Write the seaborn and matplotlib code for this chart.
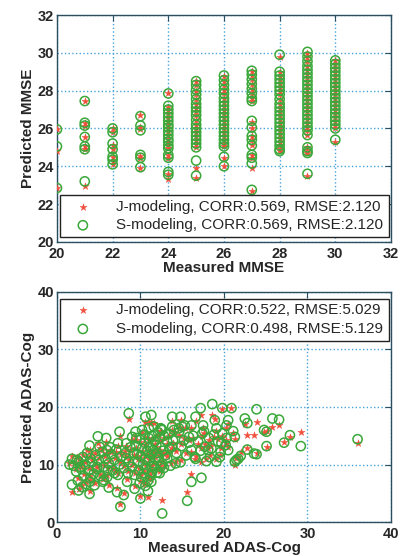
import numpy as np
import pandas as pd
import matplotlib
matplotlib.use('Agg')
import matplotlib.pyplot as plt
import seaborn as sns

# ── MMSE data (one list per measured score) ──────────────────────────────────
mmse_levels = [20, 21, 22, 23, 24, 25, 26, 27, 28, 29, 30]
mmse_pred_s = [
    [25.95, 25.05, 22.85],
    [27.45, 26.3, 26.15, 25.55, 25.05, 24.9, 23.2],
    [26.0, 25.8, 25.2, 24.9, 24.5, 24.35, 24.1],
    [26.65, 26.15, 25.9, 24.6, 24.45, 23.95],
    [27.85, 27.2, 27.0, 26.8, 26.6, 26.4, 26.2, 26.05, 25.85, 25.65, 25.45, 25.3,
     25.1, 24.95, 24.6, 24.45, 23.7, 23.55],
    [28.5, 28.3, 28.05, 27.8, 27.55, 27.3, 27.1, 26.9, 26.7, 26.45, 26.2, 26.0,
     25.8, 25.6, 25.4, 25.2, 25.0, 24.3, 23.5],
    [28.8, 28.55, 28.3, 28.05, 27.85, 27.6, 27.4, 27.2, 27.0, 26.8, 26.6, 26.4,
     26.2, 26.0, 25.8, 25.6, 25.4, 25.2, 25.05, 24.5, 24.0],
    [29.05, 28.85, 28.6, 28.35, 28.1, 27.85, 27.6, 27.45, 26.4, 26.05, 25.6,
     25.4, 25.1, 24.6, 24.45, 24.15, 22.75],
    [29.9, 29.0, 28.8, 28.6, 28.4, 28.2, 28.0, 27.8, 27.55, 27.3, 27.1, 26.9,
     26.7, 26.5, 26.3, 26.1, 25.9, 25.7, 25.5, 25.3, 25.1, 24.9, 24.8],
    [30.05, 29.8, 29.55, 29.3, 29.1, 28.9, 28.7, 28.5, 28.3, 28.1, 27.9, 27.7,
     27.5, 27.3, 27.1, 26.9, 26.7, 26.5, 26.3, 26.1, 25.9, 25.65, 25.0, 24.8,
     24.7, 23.6],
    [29.6, 29.4, 29.2, 29.0, 28.8, 28.6, 28.4, 28.2, 28.0, 27.8, 27.6, 27.4,
     27.2, 27.0, 26.8, 26.6, 26.4, 26.2, 26.0, 25.4],
]
mmse_pred_j = [
    [25.95, 24.8, 22.85],
    [27.45, 26.3, 26.15, 25.55, 25.05, 24.9, 22.95],
    [26.0, 25.8, 25.15, 24.9, 24.5, 24.3, 24.1],
    [26.7, 26.1, 25.95, 24.55, 24.45, 23.9],
    [27.85, 27.15, 27.0, 26.8, 26.55, 26.4, 26.2, 26.0, 25.85, 25.65, 25.45, 25.3,
     25.1, 24.95, 24.6, 24.45, 23.6, 23.3],
    [28.5, 28.3, 28.0, 27.8, 27.55, 27.3, 27.1, 26.9, 26.7, 26.45, 26.2, 26.0,
     25.8, 25.6, 25.4, 25.2, 25.0, 23.9, 23.4],
    [28.8, 28.5, 28.3, 28.05, 27.85, 27.6, 27.4, 27.2, 27.0, 26.8, 26.6, 26.4,
     26.2, 26.0, 25.8, 25.6, 25.4, 25.2, 25.05, 24.45, 24.0],
    [29.05, 28.85, 28.6, 28.35, 28.1, 27.85, 27.6, 27.45, 26.35, 26.0, 25.6,
     25.4, 25.1, 24.6, 24.45, 23.9, 22.7],
    [29.8, 29.0, 28.8, 28.6, 28.4, 28.2, 28.0, 27.8, 27.55, 27.3, 27.1, 26.9,
     26.7, 26.5, 26.3, 26.1, 25.9, 25.7, 25.5, 25.3, 25.1, 24.9, 24.8],
    [30.0, 29.8, 29.55, 29.3, 29.1, 28.9, 28.7, 28.5, 28.3, 28.1, 27.9, 27.7,
     27.5, 27.3, 27.1, 26.9, 26.7, 26.5, 26.3, 26.1, 25.9, 25.65, 25.0, 24.8,
     24.7, 23.5],
    [29.6, 29.4, 29.2, 29.0, 28.8, 28.6, 28.4, 28.2, 28.0, 27.8, 27.6, 27.4,
     27.2, 27.0, 26.8, 26.6, 26.4, 26.2, 26.0, 25.3],
]

# ── ADAS-Cog data (same subjects for both models) ────────────────────────────
adas_measured = [
    1.5, 1.8, 2.6, 3.0, 3.9, 3.9, 3.9, 4.9, 6.0, 6.1, 6.2, 7.3, 7.5, 7.2, 7.6, 8.0,
    8.6, 9.3, 9.4, 10.0, 10.6, 11.3, 10.9, 11.4, 12.3, 12.6, 12.4, 13.8, 14.8, 13.8,
    14.6, 15.2, 15.6, 16.1, 16.5, 16.6, 17.2, 17.3, 17.4, 18.1, 18.3, 18.6, 18.9, 19.1,
    19.6, 19.8, 20.5, 20.9, 21.1, 20.5, 21.3, 21.7, 22.0, 22.5, 22.8, 22.8, 23.6, 23.9,
    23.9, 24.8, 25.1, 25.1, 25.8, 26.6, 27.2, 27.9, 29.2, 36.0,
    5.1, 4.8, 6.9, 8.3, 2.8, 5.6, 8.5, 4.0, 2.4, 9.5, 5.9, 8.3,
    16.1, 17.5, 15.0, 14.0, 12.6, 15.8, 19.7, 17.7, 13.8, 13.2, 14.2, 16.1, 19.5, 19.1,
    12.4, 11.4, 20.3, 21.3, 20.3, 21.5,
    9.2, 9.5, 9.7, 9.8, 10.0, 10.0, 10.1, 10.2, 10.3, 10.4, 10.5, 10.5, 10.6, 10.7,
    10.8, 10.9, 11.0, 11.0, 11.1, 11.2, 11.3, 11.4, 11.5, 11.6, 11.7, 11.8, 11.9, 12.0,
    12.1, 12.2, 12.3, 12.4, 12.6, 12.7, 12.8, 13.0, 13.2, 13.5, 9.0, 9.3, 9.6, 10.2,
    11.0, 11.6, 12.5, 9.9, 10.6, 11.3, 12.0, 12.8,
    2.0, 2.3, 2.6, 2.9, 3.1, 3.2, 3.4, 3.6, 3.8, 4.0, 4.2, 4.4, 4.6, 4.8, 5.0, 5.2,
    5.4, 5.6, 5.8, 6.0, 6.2, 6.5, 6.7, 6.9, 7.1, 7.3, 7.5, 7.7, 8.0, 8.2, 8.4, 8.6,
    8.8, 9.0, 1.8, 2.5, 3.5, 4.5, 5.5, 6.4,
    13.4, 13.9, 14.3, 14.6, 14.9, 15.3, 15.5, 15.8, 16.3, 16.6, 16.9, 17.2, 17.6, 17.9,
    18.2, 18.5, 18.8, 19.3, 19.8, 20.2, 13.6, 14.8,
]
adas_pred_s = [
    10.0, 6.5, 5.5, 6.1, 7.0, 4.9, 13.3, 14.9, 12.5, 9.0, 6.0, 13.7, 15.7, 5.2, 2.7, 4.7,
    18.9, 5.8, 15.7, 4.1, 18.3, 18.6, 5.4, 9.6, 8.5, 1.5, 16.3, 18.3, 18.3, 16.6,
    16.3, 14.2, 3.7, 7.0, 11.3, 18.3, 19.8, 7.7, 15.4, 12.5, 11.3, 20.5, 17.7, 16.3,
    12.2, 19.8, 17.7, 19.8, 15.8, 12.5, 10.5, 11.0, 11.5, 18.0, 17.2, 12.6, 11.9, 11.8,
    19.6, 16.0, 15.7, 13.2, 18.0, 17.8, 13.8, 15.1, 13.2, 14.4,
    13.1, 9.6, 8.5, 11.1, 9.6, 7.3, 8.5, 11.1, 10.8, 14.6, 14.6, 13.7,
    16.8, 16.8, 16.6, 16.0, 16.0, 14.8, 13.7, 13.1, 13.1, 11.1, 10.2, 12.5, 11.3, 10.5,
    9.6, 8.7, 16.8, 14.8, 14.6, 10.8,
    12.0, 13.2, 10.5, 9.0, 11.5, 14.3, 7.8, 12.8, 10.0, 8.5, 13.8, 15.2, 11.0, 9.3,
    12.3, 7.2, 14.6, 10.6, 13.0, 8.0, 11.8, 15.0, 12.5, 9.8, 14.0, 10.9, 13.4, 12.0,
    15.6, 11.2, 14.6, 13.0, 10.2, 12.4, 15.0, 11.6, 14.0, 12.8, 14.8, 8.2, 11.8, 16.0,
    16.3, 16.6, 16.2, 6.8, 6.3, 7.0, 8.6, 9.4,
    9.8, 8.8, 10.5, 9.2, 11.3, 8.0, 10.0, 12.0, 9.0, 7.6, 10.4, 8.4, 11.6, 9.2, 10.8, 8.0,
    12.2, 9.6, 11.0, 7.8, 10.2, 11.8, 9.0, 10.8, 12.6, 8.2, 10.0, 11.4, 9.4, 12.0, 7.0, 10.4,
    13.0, 9.6, 11.0, 7.2, 6.6, 6.4, 7.0, 13.0,
    15.3, 14.2, 12.0, 15.6, 13.2, 16.8, 11.6, 13.8, 15.0, 11.0, 14.0, 12.4, 15.8, 10.6,
    14.6, 12.8, 15.2, 14.0, 15.4, 13.4, 9.8, 10.4,
]
adas_pred_j = [
    10.2, 5.2, 5.7, 6.4, 7.3, 5.4, 12.6, 13.8, 12.0, 9.4, 6.5, 13.2, 14.9, 6.0, 3.2, 5.1,
    18.0, 6.2, 15.0, 4.6, 17.4, 17.4, 4.4, 9.9, 8.9, 3.8, 15.8, 17.6, 17.8, 16.0,
    16.6, 14.6, 5.2, 8.4, 11.0, 17.6, 18.6, 10.5, 15.0, 12.9, 11.7, 18.6, 18.0, 15.9,
    12.8, 19.6, 17.0, 19.9, 15.4, 13.0, 10.0, 11.3, 12.2, 17.0, 15.1, 12.9, 15.1, 12.0,
    17.4, 15.6, 15.9, 13.0, 16.6, 16.9, 14.0, 14.8, 15.7, 13.8,
    12.8, 9.9, 8.9, 11.5, 10.2, 7.6, 8.8, 11.5, 11.3, 14.2, 14.0, 13.3,
    16.4, 16.4, 16.2, 15.6, 15.5, 14.4, 13.3, 13.5, 12.8, 11.5, 10.6, 12.1, 11.7, 10.9,
    9.9, 9.1, 16.4, 14.4, 14.2, 11.2,
    11.6, 12.8, 10.9, 9.4, 11.1, 13.9, 8.2, 12.4, 10.4, 8.9, 13.4, 14.8, 11.4, 9.7,
    11.9, 7.6, 14.2, 11.0, 12.6, 8.4, 11.4, 14.6, 12.1, 10.2, 13.6, 11.3, 13.0, 12.4,
    15.2, 11.6, 14.2, 12.6, 10.6, 12.0, 14.6, 12.0, 13.6, 12.4, 14.3, 8.6, 11.4, 15.6,
    17.2, 17.3, 15.8, 7.2, 6.7, 7.4, 9.0, 9.8,
    10.2, 9.2, 10.9, 9.6, 11.7, 8.4, 10.4, 12.6, 9.4, 8.0, 10.8, 8.8, 12.0, 9.6, 11.2, 8.4,
    12.6, 10.0, 11.4, 8.2, 10.6, 12.2, 9.4, 11.2, 12.2, 8.6, 10.4, 11.8, 9.8, 12.4, 7.4, 10.8,
    12.6, 10.0, 11.4, 7.6, 7.0, 6.8, 7.4, 12.6,
    14.9, 13.8, 12.4, 15.2, 13.6, 16.4, 12.0, 14.2, 14.6, 11.4, 13.6, 12.8, 15.4, 11.0,
    14.2, 13.2, 14.8, 14.4, 15.0, 13.8, 10.2, 10.8,
]

mmse_j = pd.DataFrame({'x': [lv for lv, col in zip(mmse_levels, mmse_pred_j) for _ in col],
                       'y': [v for col in mmse_pred_j for v in col]})
mmse_s = pd.DataFrame({'x': [lv for lv, col in zip(mmse_levels, mmse_pred_s) for _ in col],
                       'y': [v for col in mmse_pred_s for v in col]})
adas_j = pd.DataFrame({'x': adas_measured, 'y': adas_pred_j})
adas_s = pd.DataFrame({'x': adas_measured, 'y': adas_pred_s})

sns.set_style('white')
plt.rcParams['font.family'] = ['Liberation Sans', 'DejaVu Sans']

RED = '#f0503c'
GREEN = '#3aa83a'
GRID = '#4aa3d8'
FRAME = '#2b4f5e'

fig = plt.figure(figsize=(4.01, 5.56), dpi=100)
ax1 = fig.add_axes([0.142, 0.565, 0.833, 0.408])
ax2 = fig.add_axes([0.142, 0.061, 0.833, 0.414])

def draw(ax, dj, ds, lab_j, lab_s):
    sns.scatterplot(data=dj, x='x', y='y', ax=ax, marker='*', s=28, color=RED,
                    edgecolor=RED, linewidth=0.3, label=lab_j, zorder=3)
    sns.scatterplot(data=ds, x='x', y='y', ax=ax, marker='o', s=44, facecolor='none',
                    edgecolor=GREEN, linewidth=1.1, label=lab_s, zorder=4)

draw(ax1, mmse_j, mmse_s, 'J-modeling, CORR:0.569, RMSE:2.120',
     'S-modeling, CORR:0.569, RMSE:2.120')
draw(ax2, adas_j, adas_s, 'J-modeling, CORR:0.522, RMSE:5.029',
     'S-modeling, CORR:0.498, RMSE:5.129')

for ax, lim, step, xl, yl in [(ax1, (20, 32), 2, 'Measured MMSE', 'Predicted MMSE'),
                              (ax2, (0, 40), 10, 'Measured ADAS-Cog', 'Predicted ADAS-Cog')]:
    ax.set_xlim(*lim)
    ax.set_ylim(*lim)
    ticks = np.arange(lim[0], lim[1] + 1, step)
    ax.set_xticks(ticks)
    ax.set_yticks(ticks)
    ax.grid(True, linestyle=':', color=GRID, linewidth=1.0, zorder=0)
    ax.set_axisbelow(True)
    ax.tick_params(direction='in', length=4, width=0.8, top=True, right=True,
                   labelsize=10.5, color=FRAME)
    ax.tick_params(axis='x', pad=3.5)
    ax.tick_params(axis='y', pad=2)
    for t in ax.get_xticklabels() + ax.get_yticklabels():
        t.set_fontweight('bold')
    for sp in ax.spines.values():
        sp.set_color(FRAME)
        sp.set_linewidth(1.0)
    ax.set_xlabel(xl, fontsize=11, fontweight='bold', labelpad=0)
    ax.set_ylabel(yl, fontsize=11, fontweight='bold', labelpad=2)

leg_kw = dict(mode='expand', borderaxespad=0, fontsize=11, fancybox=False,
              framealpha=1, edgecolor='#222222', handletextpad=1.0,
              labelspacing=0.3, borderpad=0.3, handlelength=2.4)
l1 = ax1.legend(loc='lower left', bbox_to_anchor=(0.009, 0.022, 0.985, 0.2), **leg_kw)
l2 = ax2.legend(loc='upper left', bbox_to_anchor=(0.009, 0.77, 0.985, 0.2), **leg_kw)
for l in (l1, l2):
    l.get_frame().set_linewidth(1.0)
    l.set_zorder(10)

fig.savefig('out.png', dpi=100)
